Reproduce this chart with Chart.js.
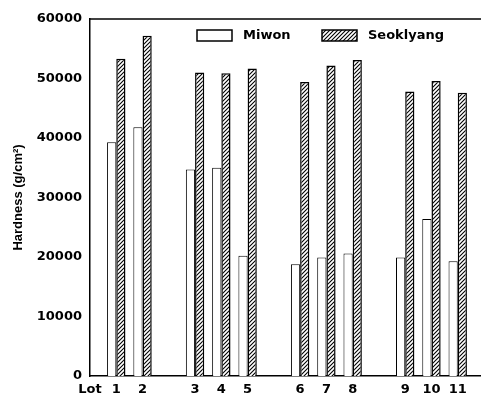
<!DOCTYPE html>
<html>
<head>
<meta charset="utf-8">
<script src="https://cdn.jsdelivr.net/npm/chart.js@4/dist/chart.umd.min.js"></script>
<style>
  html, body { margin: 0; padding: 0; background: #fff; overflow: hidden; }
  #wrap { width: 490px; height: 394px; }
</style>
</head>
<body>
<div id="wrap"><canvas id="grafico"></canvas></div>
<script>
// dados
const lots = ['1', '2', '3', '4', '5', '6', '7', '8', '9', '10', '11']
const miwon = [39300, 41800, 34700, 35000, 20200, 18800, 19900, 20600, 19900, 26400, 19300]
const seoklyang = [53300, 57200, 51000, 50900, 51700, 49400, 52200, 53100, 47800, 49600, 47600]
// posicoes no eixo x (com espacos entre os grupos)
const slots = ['Lot', '1', '2', '', '3', '4', '5', '', '6', '7', '8', '', '9', '10', '11', '']
const yTicks = [0, 10000, 20000, 30000, 40000, 50000, 60000]

function porSlot(valores) {
    return slots.map(s => {
        const i = lots.indexOf(s)
        return i >= 0 ? valores[i] : null
    })
}

// hachura
function hachura() {
    const c = document.createElement('canvas')
    c.width = 4
    c.height = 4
    const g = c.getContext('2d')
    g.fillStyle = '#fff'
    g.fillRect(0, 0, 4, 4)
    g.strokeStyle = '#000'
    g.lineWidth = 1.1
    g.beginPath()
    g.moveTo(-1, 5); g.lineTo(5, -1)
    g.moveTo(-1, 1); g.lineTo(1, -1)
    g.moveTo(3, 5); g.lineTo(5, 3)
    g.stroke()
    return g.createPattern(c, 'repeat')
}

const fonte = { family: 'DejaVu Sans', weight: 'bold', size: 13 }

// legenda dentro da area do grafico
const legendaPlugin = {
    id: 'legendaInterna',
    afterDraw(chart) {
        const { ctx, chartArea } = chart
        const y = chartArea.top + 11
        let x = chartArea.left + 107
        ctx.save()
        ctx.font = 'bold 13px "DejaVu Sans"'
        ctx.textBaseline = 'middle'
        chart.data.datasets.forEach(ds => {
            ctx.fillStyle = ds.backgroundColor
            ctx.fillRect(x, y, 35, 11)
            ctx.strokeStyle = '#000'
            ctx.lineWidth = 1.5
            ctx.strokeRect(x, y, 35, 11)
            ctx.fillStyle = '#000'
            ctx.fillText(ds.label, x + 46, y + 6)
            x += 125
        })
        ctx.restore()
    }
}

const grafico = new Chart(document.getElementById('grafico'), {
    type: 'bar',
    data: {
        labels: slots,
        datasets: [
            {
                label: 'Miwon',
                data: porSlot(miwon),
                backgroundColor: '#fff',
                borderColor: '#000',
                borderWidth: 1
            },
            {
                label: 'Seoklyang',
                data: porSlot(seoklyang),
                backgroundColor: hachura(),
                borderColor: '#000',
                borderWidth: 1.5
            }
        ]
    },
    options: {
        responsive: true,
        maintainAspectRatio: false,
        animation: false,
        layout: { padding: { top: 19, right: 5, left: 0, bottom: 0 } },
        datasets: { bar: { barPercentage: 1, categoryPercentage: 0.7 } },
        plugins: {
            legend: { display: false },
            tooltip: { enabled: false }
        },
        scales: {
            x: {
                offset: false,
                grid: { display: false, drawTicks: false },
                border: { display: true, color: '#000', width: 1.5 },
                ticks: { color: '#000', font: fonte, padding: 6, autoSkip: false, maxRotation: 0 },
                afterFit(scale) { scale.height = 18 }
            },
            y: {
                min: 0,
                max: 60000,
                afterBuildTicks(scale) { scale.ticks = yTicks.map(v => ({ value: v })) },
                grid: { display: false, drawTicks: true, tickLength: 5, tickColor: '#000' },
                border: { display: true, color: '#000', width: 1.5 },
                ticks: { color: '#000', font: fonte, padding: 3, callback: v => String(v) },
                title: {
                    display: true,
                    text: 'Hardness (g/cm²)',
                    color: '#000',
                    font: { family: 'Liberation Sans', weight: 'bold', size: 13 },
                    padding: { top: 11, bottom: 0 }
                },
                afterFit(scale) { scale.width = 90 }
            }
        }
    },
    plugins: [legendaPlugin, {
        id: 'moldura',
        afterDraw(chart) {
            const { ctx, chartArea } = chart
            ctx.save()
            ctx.strokeStyle = '#000'
            ctx.lineWidth = 1.5
            ctx.beginPath()
            ctx.moveTo(chartArea.left, chartArea.top)
            ctx.lineTo(chartArea.right, chartArea.top)
            ctx.stroke()
            ctx.restore()
        }
    }]
})
</script>
</body>
</html>
